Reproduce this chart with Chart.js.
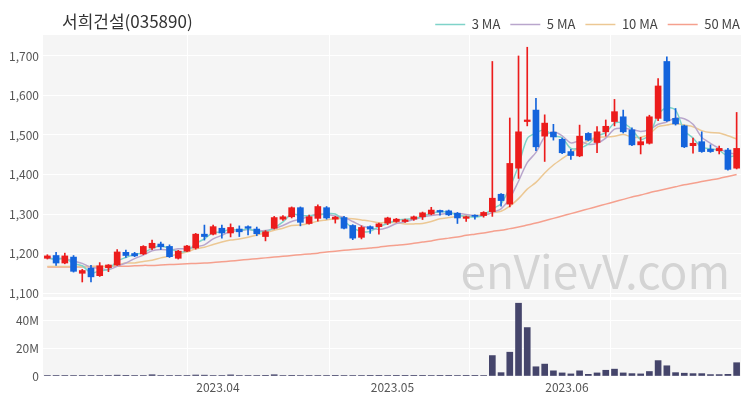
<!DOCTYPE html>
<html>
<head>
<meta charset="utf-8">
<script src="https://cdn.jsdelivr.net/npm/chart.js@4.4.0/dist/chart.umd.min.js"></script>
<style>
  html, body { margin: 0; padding: 0; background: #fff; }
  #wrap { position: relative; width: 750px; height: 400px; }
  #price { position: absolute; left: 0; top: 0; }
  #volume { position: absolute; left: 0; top: 297px; }
</style>
</head>
<body>
<div id="wrap">
  <canvas id="price" width="750" height="400"></canvas>
  <canvas id="volume" width="750" height="103"></canvas>
</div>
<script>
const title = '서희건설(035890)';
const watermark = 'enVievV.com';

const dates = [
  '2023-03-06','2023-03-07','2023-03-08','2023-03-09','2023-03-10','2023-03-13','2023-03-14','2023-03-15','2023-03-16','2023-03-17',
  '2023-03-20','2023-03-21','2023-03-22','2023-03-23','2023-03-24','2023-03-27','2023-03-28','2023-03-29','2023-03-30','2023-03-31',
  '2023-04-03','2023-04-04','2023-04-05','2023-04-06','2023-04-07','2023-04-10','2023-04-11','2023-04-12','2023-04-13','2023-04-14',
  '2023-04-17','2023-04-18','2023-04-19','2023-04-20','2023-04-21','2023-04-24','2023-04-25','2023-04-26','2023-04-27','2023-04-28',
  '2023-05-02','2023-05-03','2023-05-04','2023-05-08','2023-05-09','2023-05-10','2023-05-11','2023-05-12','2023-05-15','2023-05-16',
  '2023-05-17','2023-05-18','2023-05-19','2023-05-22','2023-05-23','2023-05-24','2023-05-25','2023-05-26','2023-05-30','2023-05-31',
  '2023-06-01','2023-06-02','2023-06-05','2023-06-07','2023-06-08','2023-06-09','2023-06-12','2023-06-13','2023-06-14','2023-06-15',
  '2023-06-16','2023-06-19','2023-06-20','2023-06-21','2023-06-22','2023-06-23','2023-06-26','2023-06-27','2023-06-28','2023-06-29'
];

const open = [
  1188,1195,1176,1191,1150,1163,1144,1164,1171,1203,
  1200,1199,1214,1224,1218,1188,1206,1214,1249,1249,
  1264,1252,1262,1268,1262,1243,1264,1287,1293,1316,
  1276,1289,1316,1287,1291,1271,1241,1268,1268,1277,
  1281,1281,1287,1293,1300,1309,1308,1302,1289,1297,
  1296,1306,1350,1325,1416,1534,1563,1497,1507,1489,
  1458,1447,1504,1481,1508,1534,1546,1513,1475,1479,
  1542,1686,1542,1523,1473,1483,1464,1460,1462,1416
];
const high = [
  1197,1203,1201,1195,1160,1170,1177,1172,1210,1209,
  1203,1220,1234,1229,1222,1208,1221,1251,1272,1272,
  1272,1275,1270,1270,1267,1258,1294,1296,1318,1318,
  1297,1323,1319,1294,1294,1273,1270,1270,1277,1292,
  1289,1287,1295,1305,1317,1310,1310,1304,1295,1298,
  1306,1686,1352,1543,1700,1722,1593,1551,1527,1492,
  1464,1525,1506,1521,1538,1590,1563,1518,1494,1550,
  1643,1698,1567,1525,1492,1508,1475,1472,1466,1557
];
const low = [
  1186,1170,1174,1153,1128,1128,1142,1154,1170,1190,
  1192,1197,1210,1210,1190,1186,1205,1211,1234,1247,
  1239,1242,1243,1247,1245,1232,1262,1284,1290,1270,
  1274,1282,1287,1277,1262,1235,1237,1251,1249,1273,
  1279,1279,1284,1286,1298,1297,1296,1276,1281,1287,
  1292,1294,1320,1318,1390,1523,1460,1433,1487,1453,
  1438,1445,1485,1455,1497,1523,1505,1473,1452,1477,
  1536,1534,1525,1468,1454,1456,1456,1452,1411,1414
];
const close = [
  1194,1176,1194,1155,1157,1141,1169,1171,1204,1195,
  1194,1218,1226,1217,1192,1206,1219,1249,1243,1268,
  1252,1266,1255,1264,1250,1255,1291,1293,1316,1279,
  1293,1319,1290,1292,1264,1239,1266,1262,1275,1290,
  1287,1285,1293,1303,1310,1305,1298,1290,1293,1294,
  1304,1340,1334,1428,1508,1538,1470,1530,1495,1455,
  1448,1497,1487,1508,1522,1559,1508,1475,1483,1546,
  1624,1536,1528,1470,1479,1458,1458,1466,1413,1466
];
const volume = [
  400000,300000,300000,400000,300000,300000,300000,300000,600000,500000,
  300000,400000,900000,400000,300000,300000,300000,700000,600000,400000,
  300000,800000,300000,300000,400000,500000,900000,400000,500000,400000,
  300000,400000,300000,200000,300000,300000,300000,200000,200000,300000,
  200000,200000,200000,200000,300000,200000,200000,300000,200000,200000,
  300000,14600000,2400000,17000000,52000000,34600000,6600000,8500000,3700000,2200000,
  1500000,3700000,1200000,2200000,4100000,4900000,2200000,1700000,1500000,3200000,
  11000000,7300000,2400000,2000000,1700000,1700000,1000000,1000000,1200000,9500000
];

const ma3 = [
  1190,1185,1188,1175,1169,1151,1156,1160,1181,1190,
  1198,1202,1213,1220,1212,1205,1206,1225,1237,1253,
  1254,1262,1258,1262,1256,1256,1265,1280,1300,1296,
  1296,1297,1301,1300,1282,1265,1256,1256,1268,1276,
  1284,1287,1288,1294,1302,1306,1304,1298,1294,1292,
  1297,1313,1326,1367,1423,1491,1505,1513,1498,1493,
  1466,1467,1477,1497,1506,1530,1530,1514,1489,1501,
  1551,1569,1563,1511,1492,1469,1465,1461,1446,1448
];
const ma5 = [
  1188,1187,1187,1181,1175,1165,1163,1159,1168,1176,
  1187,1196,1207,1210,1209,1212,1212,1217,1222,1237,
  1246,1256,1257,1261,1257,1258,1263,1271,1281,1287,
  1294,1300,1299,1295,1292,1281,1270,1265,1261,1266,
  1276,1280,1286,1292,1296,1299,1302,1301,1299,1296,
  1296,1304,1313,1340,1383,1430,1456,1495,1508,1498,
  1480,1485,1476,1479,1492,1515,1517,1514,1509,1514,
  1527,1533,1543,1541,1527,1494,1479,1466,1455,1452
];
const ma10 = [
  1167,1167,1167,1167,1167,1167,1167,1168,1171,1176,
  1176,1180,1183,1189,1193,1199,1204,1212,1216,1223,
  1229,1234,1237,1241,1247,1252,1259,1264,1271,1272,
  1276,1282,1285,1288,1289,1288,1285,1282,1278,1279,
  1278,1275,1275,1276,1281,1288,1291,1294,1295,1296,
  1298,1303,1307,1320,1339,1363,1380,1404,1424,1440,
  1455,1470,1486,1494,1495,1497,1501,1495,1494,1503,
  1521,1525,1529,1525,1521,1511,1506,1505,1498,1490
];
const ma50 = [
  1166,1166,1166,1166,1166,1167,1167,1167,1168,1168,
  1169,1170,1170,1171,1172,1173,1174,1175,1176,1177,
  1179,1181,1183,1185,1187,1189,1191,1193,1195,1197,
  1199,1201,1204,1206,1208,1210,1212,1214,1216,1219,
  1221,1223,1226,1229,1232,1236,1239,1242,1246,1249,
  1252,1256,1259,1263,1267,1272,1277,1283,1289,1295,
  1301,1307,1313,1319,1325,1331,1337,1343,1348,1354,
  1359,1364,1369,1374,1378,1382,1386,1390,1395,1400
];

const priceTicks = [1100, 1200, 1300, 1400, 1500, 1600, 1700];
const volumeTicks = [0, 20000000, 40000000];

// layout
const FONT = "'Noto Sans CJK KR', 'Noto Sans', sans-serif";
const RED = '#ec1c1c';
const BLUE = '#1464dc';
const PLOT_BG = '#f5f5f5';
const gridAt = [16.1, 32.3, 48.4, 64.6];
const xMin = -0.5, xMax = dates.length - 0.5;

const idx = dates.map((d, i) => i);
const candleColor = idx.map(i => close[i] >= open[i] ? RED : BLUE);

// first trading day of each month (except the first month), label sits just before it
const monthLabel = new Map();
idx.forEach(i => {
  if (i > 0 && dates[i].slice(5, 7) !== dates[i - 1].slice(5, 7)) {
    monthLabel.set(i - 0.45, dates[i].slice(0, 7).replace('-', '.'));
  }
});

const noEdgePadding = axis => { axis.paddingTop = 0; axis.paddingBottom = 0; };

const plotBackground = {
  id: 'plotBackground',
  beforeDraw(chart) {
    const { ctx, chartArea: a } = chart;
    ctx.save();
    ctx.fillStyle = PLOT_BG;
    ctx.fillRect(a.left, a.top, a.right - a.left, a.bottom - a.top);
    ctx.restore();
  }
};

const titleAndMark = {
  id: 'titleAndMark',
  beforeDatasetsDraw(chart) {
    const { ctx, chartArea: a } = chart;
    ctx.save();
    ctx.font = '46px ' + FONT;
    ctx.fillStyle = '#d4d4d4';
    ctx.textAlign = 'right';
    ctx.textBaseline = 'alphabetic';
    ctx.fillText(watermark, a.right - 11, a.bottom - 8);
    ctx.restore();
  },
  afterDraw(chart) {
    const { ctx } = chart;
    ctx.save();
    ctx.font = '17px ' + FONT;
    ctx.fillStyle = '#333';
    ctx.textAlign = 'left';
    ctx.textBaseline = 'middle';
    ctx.fillText(title, 62, 22);
    ctx.restore();
  }
};

function maLine(label, data, color) {
  return {
    type: 'line',
    label: label,
    data: idx.map(i => ({ x: i, y: data[i] })),
    borderColor: color,
    backgroundColor: color,
    borderWidth: 1.5,
    pointRadius: 0,
    tension: 0.3,
    order: 3
  };
}

new Chart(document.getElementById('price'), {
  type: 'bar',
  data: {
    datasets: [
      maLine('3 MA', ma3, '#7fd3c9'),
      maLine('5 MA', ma5, '#b9a6cc'),
      maLine('10 MA', ma10, '#ecc894'),
      maLine('50 MA', ma50, '#f5a08e'),
      {
        label: 'wick',
        data: idx.map(i => ({ x: i, y: [low[i], high[i]] })),
        backgroundColor: candleColor,
        barThickness: 1,
        grouped: false,
        order: 2
      },
      {
        label: 'body',
        data: idx.map(i => ({ x: i, y: [open[i], close[i]] })),
        backgroundColor: candleColor,
        barThickness: 6,
        minBarLength: 1,
        grouped: false,
        order: 1
      }
    ]
  },
  options: {
    responsive: false,
    animation: false,
    devicePixelRatio: 1,
    layout: { padding: { top: 8, right: 0, bottom: 103, left: 0 } },
    plugins: {
      legend: {
        position: 'top',
        align: 'end',
        maxHeight: 27,
        labels: {
          filter: item => item.text.indexOf('MA') >= 0,
          usePointStyle: true,
          pointStyle: 'line',
          pointStyleWidth: 30,
          padding: 10,
          color: '#444',
          font: { size: 13, family: FONT }
        }
      },
      tooltip: { enabled: false }
    },
    scales: {
      x: {
        type: 'linear',
        offset: false,
        min: xMin,
        max: xMax,
        afterBuildTicks: axis => { axis.ticks = gridAt.map(v => ({ value: v })); },
        afterFit: axis => { axis.height = 0; },
        ticks: { display: false },
        grid: { color: '#ffffff', lineWidth: 1, drawTicks: false, offset: false },
        border: { display: false }
      },
      y: {
        min: 1090,
        max: 1753,
        afterBuildTicks: axis => { axis.ticks = priceTicks.map(v => ({ value: v })); },
        afterFit: axis => { axis.width = 43; noEdgePadding(axis); },
        ticks: {
          padding: 4,
          color: '#555',
          font: { size: 12, family: FONT },
          callback: v => v.toLocaleString('en-US')
        },
        grid: { color: '#ffffff', lineWidth: 1, drawTicks: false },
        border: { display: false }
      },
      // empty strip on the right so the plot stops short of the legend edge
      yRight: {
        position: 'right',
        afterFit: axis => { axis.width = 9; noEdgePadding(axis); },
        ticks: { display: false },
        grid: { display: false, drawTicks: false },
        border: { display: false }
      }
    }
  },
  plugins: [plotBackground, titleAndMark]
});

new Chart(document.getElementById('volume'), {
  type: 'bar',
  data: {
    datasets: [{
      label: 'Volume',
      data: idx.map(i => ({ x: i, y: volume[i] })),
      backgroundColor: '#45456b',
      barThickness: 6
    }]
  },
  options: {
    responsive: false,
    animation: false,
    devicePixelRatio: 1,
    layout: { padding: { top: 3, right: 9, bottom: 0, left: 0 } },
    plugins: {
      legend: { display: false },
      tooltip: { enabled: false }
    },
    scales: {
      x: {
        type: 'linear',
        offset: false,
        min: xMin,
        max: xMax,
        afterBuildTicks: axis => {
          const marks = gridAt.concat(Array.from(monthLabel.keys()));
          axis.ticks = marks.map(v => ({ value: v }));
        },
        afterFit: axis => { axis.height = 24; },
        ticks: {
          autoSkip: false,
          maxRotation: 0,
          padding: 4,
          color: '#555',
          font: { size: 12, family: FONT },
          callback: v => monthLabel.get(v) || ''
        },
        grid: {
          color: ctx => (ctx.tick && gridAt.indexOf(ctx.tick.value) >= 0) ? '#ffffff' : 'rgba(0,0,0,0)',
          lineWidth: 1,
          drawTicks: false,
          offset: false
        },
        border: { display: false }
      },
      y: {
        min: 0,
        max: 54300000,
        afterBuildTicks: axis => { axis.ticks = volumeTicks.map(v => ({ value: v })); },
        afterFit: axis => { axis.width = 43; noEdgePadding(axis); },
        ticks: {
          padding: 4,
          color: '#555',
          font: { size: 12, family: FONT },
          callback: v => v === 0 ? '0' : (v / 1000000) + 'M'
        },
        grid: { color: '#ffffff', lineWidth: 1, drawTicks: false },
        border: { display: false }
      }
    }
  },
  plugins: [plotBackground]
});
</script>
</body>
</html>
